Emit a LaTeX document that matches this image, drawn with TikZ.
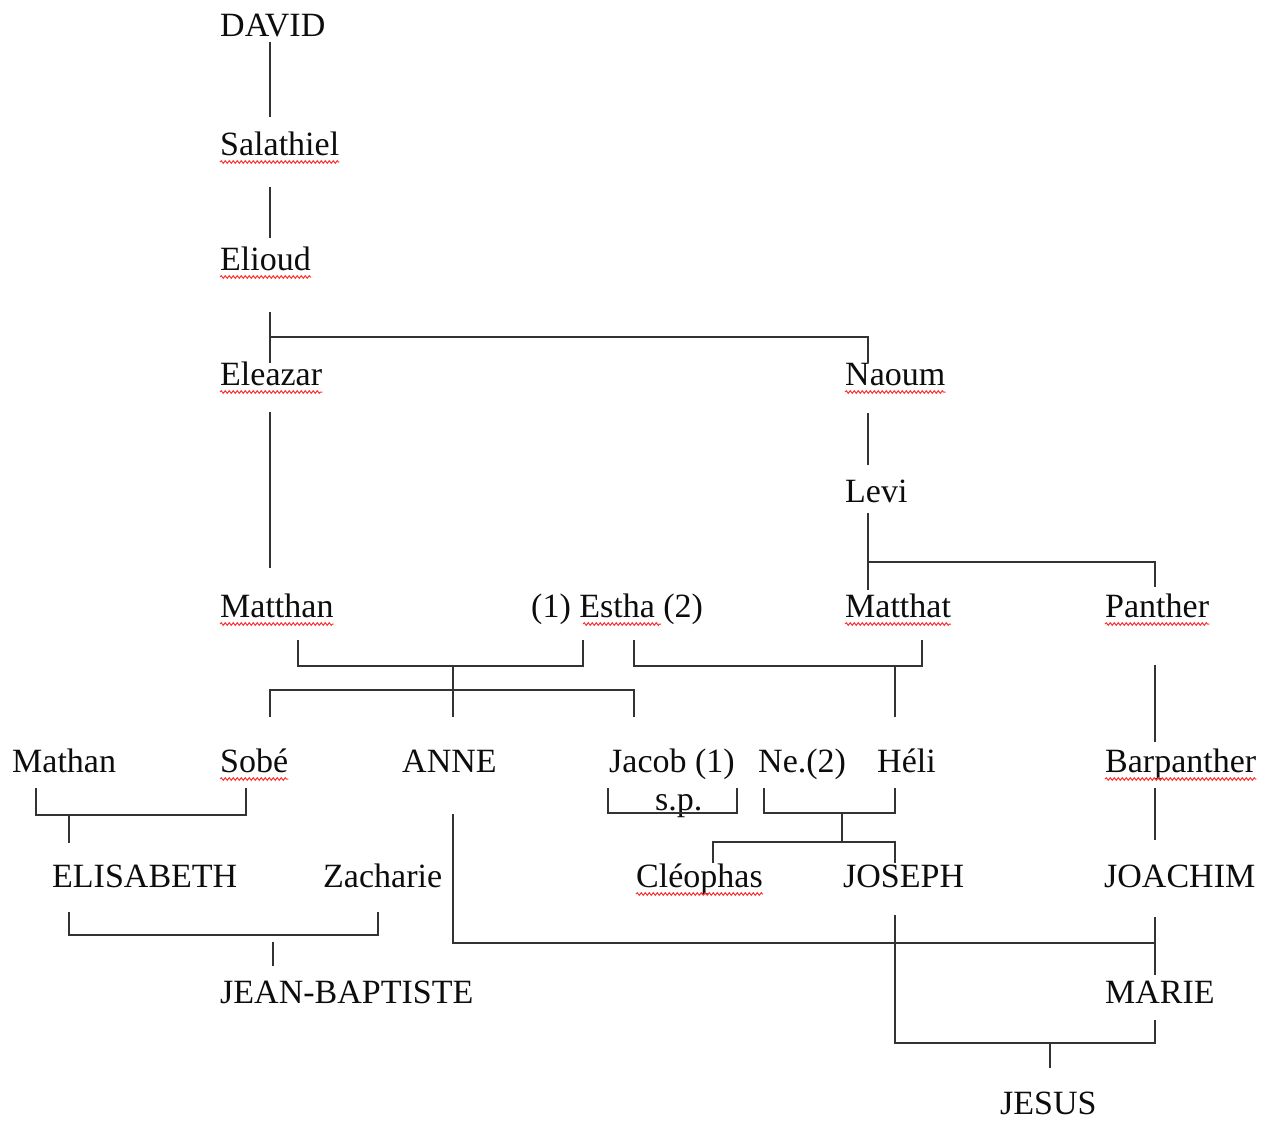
\documentclass[tikz,border=0pt]{standalone}
\usepackage{fontspec}
\setmainfont{Liberation Serif}
\usetikzlibrary{decorations.pathmorphing}

\begin{document}
\begin{tikzpicture}[x=1pt, y=-1pt,
    every node/.style={anchor=base west, inner sep=0pt, text=black!95,
        font=\fontsize{34}{40}\selectfont},
    link/.style={draw=black!80, line width=2.2pt},
    spell/.style={draw=red!80, line width=1pt,
        decorate, decoration={snake, amplitude=1.3pt, segment length=4pt}}]

\useasboundingbox[fill=white] (0,0) rectangle (1271,1121);

% Line of Eleazar
\node (david)     at (220,37)  {DAVID};
\node (salathiel) at (220,155) {Salathiel};
\node (elioud)    at (220,270) {Elioud};
\node (eleazar)   at (220,385) {Eleazar};
\node (matthan)   at (220,617) {Matthan};

% Line of Naoum
\node (naoum)   at (845,385)  {Naoum};
\node (levi)    at (845,502)  {Levi};
\node (matthat) at (845,617)  {Matthat};
\node (panther) at (1105,617) {Panther};

% Estha and her two marriages
\node (estha) at (531,617) {(1) Estha (2)};

% Children row
\node (mathan)     at (12,772)   {Mathan};
\node (sobe)       at (220,772)  {Sobé};
\node (anne)       at (402,772)  {ANNE};
\node (jacob)      at (609,772)  {Jacob (1)};
\node (sp)         at (655,810)  {s.p.};
\node (ne)         at (758,772)  {Ne.(2)};
\node (heli)       at (877,772)  {Héli};
\node (barpanther) at (1105,772) {Barpanther};

% Grandchildren row
\node (elisabeth) at (52,887)   {ELISABETH};
\node (zacharie)  at (323,887)  {Zacharie};
\node (cleophas)  at (636,887)  {Cléophas};
\node (joseph)    at (843,887)  {JOSEPH};
\node (joachim)   at (1104,887) {JOACHIM};

% Last rows
\node (jeanbaptiste) at (220,1003) {JEAN-BAPTISTE};
\node (marie)        at (1105,1003) {MARIE};
\node (jesus)        at (1000,1114) {JESUS};

% junctions of the family bars
\coordinate (eliJ)   at (270,337);
\coordinate (leviJ)  at (868,562);
\coordinate (anneJ)  at (453,666);
\coordinate (heliJ)  at (895,666);
\coordinate (elisJ)  at (69,815);
\coordinate (josJ)   at (842,813);
\coordinate (josbJ)  at (842,842);
\coordinate (marJ)   at (1155,943);
\coordinate (jesJ)   at (1050,1043);

% David to Elioud
\draw[link] (270,42) -- (270,117);
\draw[link] (270,187) -- (270,238);

% Elioud to Eleazar and Naoum
\draw[link] (270,312) -- (270,363);
\draw[link] (eliJ) -| (868,363);
\draw[link] (270,412) -- (270,568);

% Naoum to Matthat and Panther
\draw[link] (868,413) -- (868,465);
\draw[link] (868,513) -- (868,590);
\draw[link] (leviJ) -| (1155,587);

% Matthan + Estha (1)
\draw[link] (298,640) |- (583,666) -- (583,640);
\draw[link] (anneJ) -- (453,717);
\draw[link] (270,717) |- (634,690) -- (634,717);

% Estha (2) + Matthat
\draw[link] (634,640) |- (922,666) -- (922,640);
\draw[link] (heliJ) -- (895,717);

% Panther to Joachim
\draw[link] (1155,665) -- (1155,742);
\draw[link] (1155,788) -- (1155,840);

% Mathan + Sobe
\draw[link] (36,788) |- (246,815) -- (246,788);
\draw[link] (elisJ) -- (69,843);

% Jacob (1) s.p., Ne.(2) + Heli
\draw[link] (608,788) |- (737,813) -- (737,788);
\draw[link] (764,788) |- (895,813) -- (895,788);
\draw[link] (josJ) -- (josbJ);
\draw[link] (713,863) |- (895,842) -- (895,863);

% Elisabeth + Zacharie
\draw[link] (69,912) |- (378,935) -- (378,912);
\draw[link] (273,942) -- (273,966);

% Anne + Joachim
\draw[link] (453,814) |- (marJ);
\draw[link] (1155,917) -- (1155,975);

% Joseph + Marie
\draw[link] (895,915) |- (1155,1043) -- (1155,1020);
\draw[link] (jesJ) -- (1050,1068);

% spelling marks
\foreach \n in {salathiel, elioud, eleazar, naoum, matthan, matthat,
    panther, sobe, barpanther, cleophas}
  \draw[spell] ([yshift=-7pt]\n.base west) -- ([yshift=-7pt]\n.base east);
\draw[spell] ([xshift=52pt,yshift=-7pt]estha.base west) -- ([xshift=130pt,yshift=-7pt]estha.base west);

\end{tikzpicture}
\end{document}
